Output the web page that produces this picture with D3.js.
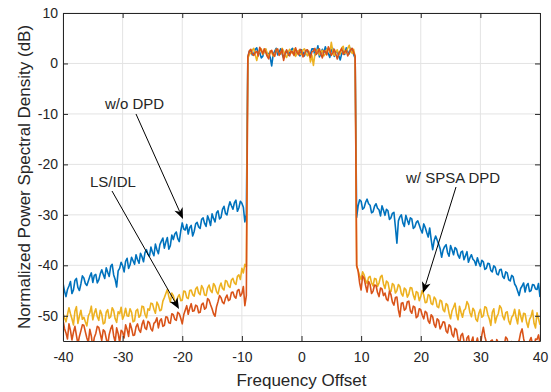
<!DOCTYPE html>
<html><head><meta charset="utf-8">
<script src="https://cdn.jsdelivr.net/npm/d3@7"></script>
<style>body{margin:0;background:#fff}svg{display:block}text{font-family:"Liberation Sans",Arial,sans-serif;fill:#262626}</style>
</head><body><svg id="c" width="551" height="392"></svg>
<script>
// frequency grid: -40 .. 40, step 0.25 (321 samples)
const freq = d3.range(0, 321).map(i => -40 + 0.25 * i);
const xTicks = [-40, -30, -20, -10, 0, 10, 20, 30, 40];
const yTicks = [-50, -40, -30, -20, -10, 0, 10];

// ---- w/o DPD (blue) ----
const blueLeft = [
-43.5,-45.1,-46.2,-44.8,-44.1,-43.2,-45.6,-44.9,-43.0,-42.6,-44.4,-45.0,-43.7,-42.1,-42.5,-43.6,-44.0,-43.1,-42.2,-41.5,
-43.4,-42.0,-41.8,-43.5,-42.9,-41.7,-40.9,-41.8,-42.6,-40.5,-41.4,-42.2,-40.2,-39.8,-41.9,-42.8,-44.3,-41.1,-40.6,-39.4,
-40.1,-41.3,-39.2,-38.6,-40.6,-39.9,-38.4,-39.1,-39.8,-37.9,-38.9,-39.6,-37.6,-38.3,-39.3,-37.5,-36.9,-37.8,-38.2,-36.4,
-37.4,-38.1,-35.8,-36.9,-37.7,-35.9,-35.2,-34.6,-36.6,-35.4,-34.5,-36.8,-36.1,-34.0,-34.9,-33.8,-33.4,-34.7,-35.3,-33.2,
-31.6,-32.8,-33.0,-31.9,-33.8,-32.5,-32.1,-34.2,-33.3,-31.8,-31.5,-32.4,-32.7,-30.9,-30.6,-31.7,-32.3,-30.2,-31.0,-32.1,
-29.8,-30.7,-31.4,-29.6,-29.2,-30.8,-30.5,-28.9,-28.3,-29.7,-30.0,-28.5,-27.4,-28.2,-28.9,-27.6,-27.1,-29.3,-28.6,-27.3,
-27.7,-28.5,-31.4,-29.8];
const blueBand = [
1.2,2.4,2.6,1.7,1.9,2.8,3.1,1.9,2.2,1.1,1.4,2.5,2.8,1.6,2.0,1.2,-0.5,1.8,2.4,3.0,
1.7,2.2,2.9,1.9,1.1,2.1,2.5,1.6,2.0,2.7,3.0,2.1,1.6,2.4,2.3,1.5,2.7,2.2,1.5,2.5,
2.6,1.7,1.8,2.9,2.9,1.6,2.2,3.5,1.3,2.0,2.8,2.1,3.3,2.4,2.0,1.2,2.6,3.0,1.4,2.3,
2.4,1.5,0.7,2.0,2.5,1.8,3.1,2.4,1.9,3.0,2.6,1.8,1.0];
const blueRight = [
-30.5,-28.2,-27.0,-27.3,-28.9,-28.6,-27.5,-26.9,-27.8,-28.1,-29.6,-29.4,-28.3,-27.8,-28.7,-29.0,-30.2,-28.2,-29.1,-30.1,
-28.9,-29.2,-30.9,-30.6,-29.7,-29.5,-32.4,-35.6,-31.2,-30.4,-30.0,-31.6,-32.3,-30.1,-31.0,-31.9,-30.6,-30.8,-32.7,-32.4,
-31.5,-31.2,-32.0,-32.9,-33.6,-31.8,-32.5,-33.5,-34.4,-32.6,-34.9,-36.9,-35.1,-34.2,-35.0,-35.8,-36.7,-38.4,-37.0,-36.3,
-35.9,-37.5,-38.2,-36.1,-36.9,-37.9,-36.5,-36.8,-38.0,-38.6,-37.4,-37.2,-38.9,-38.1,-37.3,-39.4,-38.5,-37.9,-38.8,-39.1,
-40.0,-38.5,-39.5,-40.2,-39.0,-39.3,-40.8,-40.6,-39.6,-39.7,-41.0,-41.3,-40.1,-40.4,-41.7,-41.9,-40.9,-40.8,-42.2,-42.6,
-41.3,-41.5,-42.9,-43.1,-42.0,-42.3,-43.7,-44.2,-45.1,-46.0,-44.6,-44.1,-43.5,-45.3,-44.0,-43.6,-45.2,-45.0,-43.8,-43.9,
-44.7,-44.8,-43.6,-46.3];

// ---- LS/IDL (orange) ----
const orangeLeft = [
-50.8,-52.5,-53.4,-54.6,-51.6,-52.9,-54.8,-53.3,-52.1,-53.9,-55.6,-54.1,-53.0,-51.8,-51.9,-53.2,-54.4,-55.3,-52.7,-54.0,
-56.2,-54.3,-53.5,-52.1,-52.3,-53.6,-54.9,-52.8,-53.1,-54.5,-55.8,-53.7,-52.6,-51.9,-54.0,-55.2,-52.4,-53.5,-55.3,-52.9,
-53.2,-54.4,-51.8,-52.7,-54.1,-51.5,-52.5,-53.9,-53.8,-52.2,-51.6,-52.8,-53.3,-51.7,-50.9,-52.4,-52.7,-51.1,-51.4,-52.6,
-53.0,-51.5,-51.2,-50.4,-52.4,-51.0,-50.6,-52.1,-51.9,-50.2,-50.3,-51.4,-51.5,-49.6,-49.8,-50.7,-50.9,-49.3,-49.6,-50.5,
-51.6,-49.8,-48.9,-48.0,-49.7,-48.5,-47.6,-49.1,-49.0,-47.9,-48.1,-49.4,-49.3,-47.8,-47.5,-48.7,-48.4,-46.6,-46.9,-47.8,
-48.6,-49.6,-50.1,-48.2,-47.2,-46.0,-46.4,-47.3,-47.6,-46.5,-45.9,-47.0,-46.8,-45.4,-45.3,-46.2,-46.5,-45.0,-44.8,-46.1,
-45.6,-44.2,-48.0,-46.0];
const orangeBand = [
1.3,2.5,2.8,1.9,1.6,2.2,2.4,1.5,3.2,2.6,1.9,2.9,2.2,1.4,0.9,2.3,2.6,1.8,1.4,2.7,
2.9,1.6,2.1,2.8,0.6,1.9,2.7,2.0,1.5,2.4,2.3,1.6,3.1,2.2,1.7,2.8,2.4,1.3,1.9,2.6,
2.7,2.0,1.2,2.3,2.5,3.0,1.8,2.2,2.9,1.9,1.1,2.5,2.4,1.7,3.3,2.6,1.6,2.1,2.8,1.9,
0.9,2.0,2.5,3.0,1.8,2.3,2.6,1.5,2.1,2.7,3.0,2.2,1.4];
const orangeRight = [
-40.0,-41.2,-43.5,-44.9,-42.1,-42.6,-44.0,-45.3,-43.2,-43.8,-45.6,-45.1,-43.9,-44.0,-45.4,-46.2,-44.5,-44.7,-46.0,-45.5,
-46.7,-47.0,-45.1,-45.8,-47.3,-47.9,-46.4,-46.3,-48.8,-50.2,-47.5,-47.4,-48.9,-48.6,-47.2,-47.1,-49.0,-49.5,-48.1,-48.3,
-50.4,-50.1,-48.6,-48.8,-49.9,-50.6,-49.1,-49.4,-51.0,-51.5,-49.8,-50.2,-51.7,-52.3,-50.6,-50.9,-52.6,-52.0,-51.2,-51.3,
-53.0,-53.4,-51.8,-52.1,-53.7,-54.2,-52.5,-52.8,-54.6,-55.6,-53.9,-53.5,-55.0,-56.3,-54.4,-54.0,-56.1,-55.1,-54.2,-56.8,
-55.5,-54.4,-55.9,-56.0,-53.8,-52.3,-54.1,-55.2,-56.4,-57.1,-55.0,-54.8,-56.2,-56.5,-54.7,-55.3,-56.9,-57.4,-55.6,-55.9,
-54.2,-54.6,-56.3,-56.7,-55.1,-55.4,-56.8,-57.0,-55.3,-54.9,-53.4,-52.6,-54.5,-55.8,-57.2,-56.9,-55.0,-54.3,-55.7,-56.2,
-54.6,-54.7,-53.8,-55.5];

// ---- w/ SPSA DPD (yellow) ----
const yellowLeft = [
-49.5,-50.4,-51.2,-49.8,-48.4,-49.6,-50.6,-51.8,-49.1,-48.2,-51.5,-50.1,-48.9,-50.7,-50.3,-51.2,-52.0,-50.0,-49.4,-48.1,
-50.8,-49.5,-48.6,-50.2,-50.9,-48.9,-49.7,-51.6,-51.4,-49.3,-48.8,-50.5,-50.2,-48.4,-49.0,-50.6,-51.3,-49.2,-49.6,-48.3,
-50.7,-49.9,-48.5,-50.0,-50.1,-48.6,-49.3,-51.2,-51.0,-49.0,-48.7,-50.3,-49.9,-48.1,-48.2,-49.7,-50.4,-48.6,-48.9,-47.5,
-47.6,-48.7,-49.5,-47.3,-47.9,-49.0,-48.8,-47.1,-46.4,-45.6,-44.8,-46.2,-47.3,-45.5,-46.0,-47.1,-47.5,-46.3,-45.8,-47.0,
-46.9,-45.1,-45.2,-46.4,-46.6,-45.0,-44.9,-45.8,-46.1,-44.7,-44.3,-45.5,-45.8,-44.0,-44.6,-45.9,-46.0,-44.5,-43.9,-45.0,
-45.4,-43.6,-44.1,-45.2,-45.7,-44.3,-43.5,-44.6,-44.9,-43.0,-43.2,-44.1,-44.4,-42.9,-42.6,-43.5,-43.8,-42.2,-41.9,-42.8,
-40.6,-41.5,-39.8,-40.3];
const yellowBand = [
1.0,1.8,2.1,2.6,3.0,1.7,0.6,1.9,2.4,2.9,1.8,2.2,2.9,2.0,1.3,2.5,2.2,1.5,1.6,2.8,
2.7,1.8,1.9,3.0,2.5,1.6,1.2,2.2,2.8,2.3,2.0,2.9,1.4,2.1,2.6,1.9,1.8,2.7,2.9,2.0,
1.5,2.4,0.3,1.6,-0.4,1.9,2.3,2.8,1.7,2.2,2.6,1.5,1.9,2.8,3.0,2.1,4.2,2.4,1.6,2.3,
2.7,1.8,1.9,3.1,3.4,2.0,2.2,3.0,3.6,2.5,2.0,2.8,1.2];
const yellowRight = [
-40.2,-41.0,-42.1,-42.8,-41.3,-41.9,-43.0,-43.6,-42.4,-42.2,-43.5,-44.1,-42.6,-42.7,-44.2,-43.5,-42.3,-42.0,-43.7,-44.6,
-43.1,-43.4,-44.9,-45.2,-43.6,-43.9,-45.5,-45.0,-43.8,-44.2,-45.6,-46.1,-44.5,-44.8,-46.3,-45.7,-44.4,-44.5,-45.9,-46.8,
-45.2,-45.4,-47.0,-46.2,-45.0,-45.9,-47.4,-47.3,-45.8,-46.0,-47.6,-47.8,-46.3,-46.7,-48.2,-48.4,-46.9,-47.1,-48.8,-49.2,
-47.6,-47.9,-49.5,-50.6,-49.0,-48.3,-47.5,-49.7,-50.8,-48.1,-49.3,-50.3,-48.9,-48.6,-47.2,-47.8,-49.4,-50.2,-48.5,-49.0,
-50.7,-51.1,-49.5,-48.7,-50.3,-50.0,-48.2,-48.4,-49.8,-50.6,-51.9,-49.3,-48.6,-51.4,-50.2,-49.6,-48.0,-48.5,-50.1,-50.8,
-49.4,-49.2,-51.0,-51.7,-50.3,-49.9,-48.7,-50.4,-51.6,-48.8,-50.0,-51.2,-49.5,-49.6,-51.3,-52.3,-50.7,-50.1,-48.9,-51.5,
-52.4,-49.4,-50.6,-51.8];

const woDPD = [...blueLeft, ...blueBand, ...blueRight];
const lsIDL = [...orangeLeft, ...orangeBand, ...orangeRight];
const spsaDPD = [...yellowLeft, ...yellowBand, ...yellowRight];

const seriesNames = ["w/o DPD", "w/ SPSA DPD", "LS/IDL"];
const seriesColors = ["#0072BD", "#EDB120", "#D95319"];
const seriesData = [woDPD, spsaDPD, lsIDL];
seriesData.forEach((s, k) => { if (s.length !== freq.length) throw new Error("length " + seriesNames[k] + " " + s.length); });

const W = 551, H = 392;
const m = {l: 63, r: 11, t: 13, b: 51};
const svg = d3.select("#c");
const x = d3.scaleLinear().domain([-40, 40]).range([m.l, W - m.r]);
const y = d3.scaleLinear().domain([-55, 10]).range([H - m.b, m.t]);

// grid
const g = svg.append("g");
g.selectAll(".gx").data(xTicks).join("line")
  .attr("x1", d => x(d)).attr("x2", d => x(d)).attr("y1", m.t).attr("y2", H - m.b)
  .attr("stroke", "#e3e3e3").attr("stroke-width", 1);
g.selectAll(".gy").data(yTicks).join("line")
  .attr("y1", d => y(d)).attr("y2", d => y(d)).attr("x1", m.l).attr("x2", W - m.r)
  .attr("stroke", "#e3e3e3").attr("stroke-width", 1);

// clip
svg.append("clipPath").attr("id", "clip").append("rect")
  .attr("x", m.l).attr("y", m.t).attr("width", W - m.l - m.r).attr("height", H - m.t - m.b);

const line = d3.line().x((d, i) => x(freq[i])).y(d => y(d));
const lines = svg.append("g").attr("clip-path", "url(#clip)");
seriesData.forEach((s, k) => {
  lines.append("path").datum(s).attr("d", line)
    .attr("fill", "none").attr("stroke", seriesColors[k]).attr("stroke-width", 1.6)
    .attr("stroke-linejoin", "round");
});

// axes (box with inner ticks)
const axCol = "#262626";
const fmt = d => String(d);
const axB = svg.append("g").attr("transform", `translate(0,${H - m.b})`)
  .call(d3.axisBottom(x).tickValues(xTicks).tickSizeInner(-5).tickSizeOuter(0).tickPadding(11).tickFormat(fmt));
const axT = svg.append("g").attr("transform", `translate(0,${m.t})`)
  .call(d3.axisTop(x).tickValues(xTicks).tickSizeInner(-5).tickSizeOuter(0).tickFormat(""));
const axL = svg.append("g").attr("transform", `translate(${m.l},0)`)
  .call(d3.axisLeft(y).tickValues(yTicks).tickSizeInner(-5).tickSizeOuter(0).tickPadding(5).tickFormat(fmt));
const axR = svg.append("g").attr("transform", `translate(${W - m.r},0)`)
  .call(d3.axisRight(y).tickValues(yTicks).tickSizeInner(-5).tickSizeOuter(0).tickFormat(""));
[axB, axT, axL, axR].forEach(a => {
  a.selectAll("path").attr("stroke", axCol).attr("stroke-width", 1);
  a.selectAll("line").attr("stroke", axCol).attr("stroke-width", 1);
  a.selectAll("text").attr("fill", axCol).style("font-size", "14px")
    .style("font-family", '"Liberation Sans",Arial,sans-serif');
});

// labels
svg.append("text").attr("x", x(0)).attr("y", 386).attr("text-anchor", "middle")
  .style("font-size", "17px").text("Frequency Offset");
svg.append("text").attr("transform", `translate(30,${(m.t + H - m.b) / 2}) rotate(-90)`)
  .attr("text-anchor", "middle").style("font-size", "17px")
  .text("Normalized Power Spectral Density (dB)");

// annotations
const notes = [
  {text: "w/o DPD", tx: 105, ty: 109, x1: 136, y1: 114, x2: 183, y2: 219},
  {text: "LS/IDL", tx: 90, ty: 187, x1: 112, y1: 191, x2: 179, y2: 309},
  {text: "w/ SPSA DPD", tx: 406, ty: 183, x1: 456, y1: 187, x2: 423, y2: 293}
];
const an = svg.append("g");
notes.forEach(n => {
  an.append("text").attr("x", n.tx).attr("y", n.ty).style("font-size", "15px").attr("fill", "#000").text(n.text);
  const ang = Math.atan2(n.y2 - n.y1, n.x2 - n.x1);
  const L = 11, Wd = 4.5, back = 8;
  const bx = n.x2 - back * Math.cos(ang), by = n.y2 - back * Math.sin(ang);
  an.append("line").attr("x1", n.x1).attr("y1", n.y1).attr("x2", bx).attr("y2", by)
    .attr("stroke", "#000").attr("stroke-width", 1);
  const px = -Math.sin(ang), py = Math.cos(ang);
  const cx = n.x2 - L * Math.cos(ang), cy = n.y2 - L * Math.sin(ang);
  const p = [[n.x2, n.y2], [cx + Wd * px, cy + Wd * py], [bx, by], [cx - Wd * px, cy - Wd * py]];
  an.append("path").attr("d", "M" + p.map(q => q.join(",")).join("L") + "Z").attr("fill", "#000");
});
</script></body></html>
